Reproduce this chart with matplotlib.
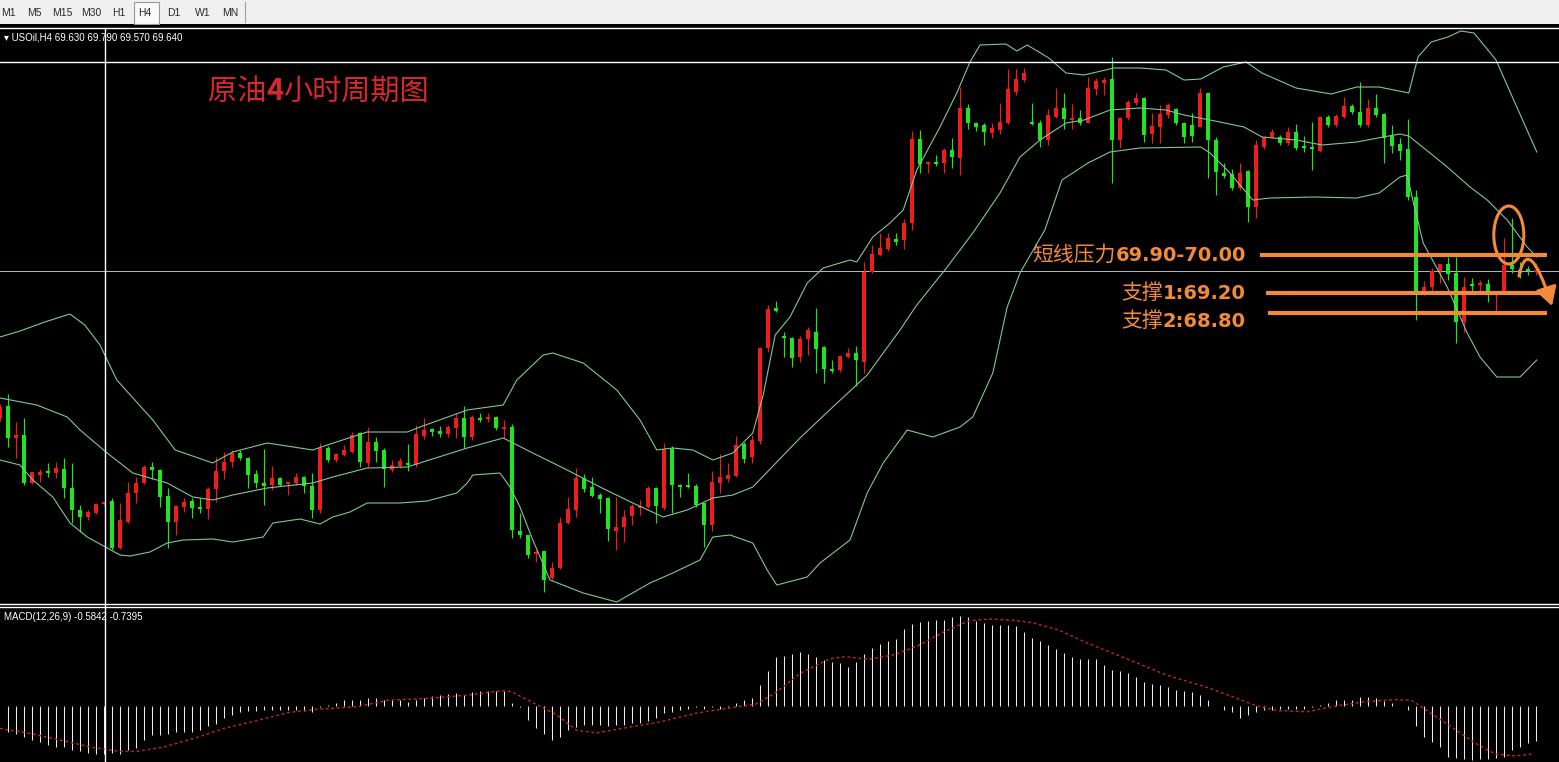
import numpy as np
import matplotlib
matplotlib.use("Agg")
import matplotlib.pyplot as plt
from matplotlib.patches import Ellipse, FancyArrowPatch, Rectangle
from matplotlib.path import Path
from matplotlib.lines import Line2D

# ---------------------------------------------------------------- data
open_ = np.array([
    66.70, 66.94, 66.30, 66.36, 65.40, 65.56, 65.64, 65.60, 65.68, 65.30,
    64.86, 64.72, 64.80, 64.98, 65.04, 64.10, 64.62, 65.20, 65.40, 65.72,
    65.66, 65.14, 64.62, 64.92, 65.04, 64.92, 64.88, 65.28, 65.64, 65.82,
    66.00, 65.90, 65.58, 65.40, 65.36, 65.50, 65.38, 65.40, 65.52, 65.34,
    64.86, 66.10, 65.86, 65.96, 66.02, 66.40, 65.80, 66.22, 66.06, 65.66,
    65.74, 65.80, 65.76, 66.34, 66.48, 66.44, 66.38, 66.50, 66.70, 66.32,
    66.70, 66.68, 66.72, 66.48, 66.52, 64.44, 64.36, 63.98, 64.04, 63.50,
    63.70, 64.60, 64.86, 65.50, 65.32, 65.16, 65.10, 64.44, 64.52, 64.74,
    64.90, 64.92, 65.30, 64.90, 66.08, 65.34, 65.34, 65.34, 65.00, 64.56,
    65.40, 65.48, 65.54, 66.18, 65.92, 66.24, 68.10, 68.90, 68.34, 68.30,
    67.92, 68.28, 68.42, 68.12, 67.68, 67.66, 67.92, 68.00, 67.82, 69.62,
    69.96, 70.08, 70.28, 70.26, 70.60, 72.28, 71.78, 71.80, 71.80, 72.06,
    71.90, 72.90, 72.60, 72.56, 72.40, 72.46, 72.60, 73.22, 73.46, 72.60,
    72.60, 72.26, 72.72, 72.90, 72.66, 72.70, 72.60, 73.28, 73.40, 73.48,
    72.26, 72.70, 73.00, 73.10, 72.38, 72.52, 72.76, 72.88, 72.60, 72.56,
    72.52, 73.20, 72.26, 71.60, 71.58, 71.30, 71.64, 70.92, 72.12, 72.32,
    72.32, 72.20, 72.42, 72.12, 72.10, 72.04, 72.72, 72.56, 72.72, 72.94,
    72.82, 72.56, 72.90, 72.78, 72.34, 72.18, 72.08, 71.12, 69.16, 69.32,
    69.64, 69.78, 69.60, 68.62, 69.38, 69.36, 69.38, 69.18, 69.20, 69.76,
    69.66, 69.66, 69.63])
high_ = np.array([
    66.98, 67.18, 66.62, 66.70, 65.62, 65.68, 65.80, 65.82, 65.90, 65.80,
    64.96, 64.86, 65.00, 65.02, 65.10, 65.00, 65.42, 65.52, 65.76, 65.82,
    65.68, 65.30, 64.96, 65.10, 65.10, 65.10, 65.32, 65.92, 66.02, 66.06,
    66.06, 65.92, 65.66, 66.08, 65.74, 65.52, 65.42, 65.60, 65.54, 65.60,
    66.20, 66.14, 66.00, 66.16, 66.42, 66.42, 66.52, 66.32, 66.10, 65.86,
    65.90, 66.18, 66.56, 66.70, 66.50, 66.54, 66.56, 66.80, 66.94, 66.76,
    66.80, 66.80, 66.74, 66.66, 66.58, 64.80, 64.36, 64.06, 64.04, 63.82,
    64.72, 65.12, 65.70, 65.58, 65.52, 65.20, 65.12, 65.12, 64.86, 64.98,
    65.06, 65.34, 65.32, 66.20, 66.14, 65.38, 65.60, 65.38, 65.00, 65.64,
    65.98, 65.80, 66.34, 66.22, 66.36, 68.12, 68.96, 69.04, 68.42, 68.32,
    68.34, 68.52, 68.90, 68.14, 67.86, 67.96, 68.10, 68.14, 69.82, 70.16,
    70.40, 70.40, 70.40, 70.68, 72.44, 72.46, 71.84, 71.96, 72.10, 72.30,
    73.32, 72.98, 72.62, 72.60, 72.60, 73.00, 73.68, 73.68, 73.70, 73.00,
    72.66, 72.88, 73.30, 73.20, 72.98, 72.86, 73.52, 73.50, 73.52, 73.92,
    72.72, 73.06, 73.20, 73.12, 72.80, 72.96, 73.00, 72.90, 72.62, 72.80,
    73.30, 73.20, 72.32, 71.80, 71.68, 71.80, 71.66, 72.26, 72.34, 72.48,
    72.36, 72.52, 72.58, 72.34, 72.62, 72.72, 72.76, 72.78, 73.12, 72.98,
    73.42, 73.08, 73.18, 72.80, 72.56, 72.30, 72.68, 71.26, 69.44, 69.70,
    69.78, 69.92, 69.92, 69.52, 69.50, 69.46, 69.48, 69.22, 70.30, 70.70,
    69.82, 69.74, 69.79])
low_ = np.array([
    66.64, 66.12, 65.90, 65.36, 65.38, 65.42, 65.52, 65.50, 65.10, 64.60,
    64.42, 64.66, 64.78, 64.96, 64.06, 64.08, 64.60, 65.00, 65.38, 65.48,
    64.92, 64.10, 64.36, 64.82, 64.70, 64.80, 64.68, 65.02, 65.48, 65.72,
    65.86, 65.30, 65.30, 64.96, 65.26, 65.34, 65.16, 65.36, 65.20, 64.70,
    64.80, 65.82, 65.82, 65.94, 66.00, 65.72, 65.72, 65.82, 65.32, 65.62,
    65.70, 65.64, 65.72, 66.28, 66.34, 66.32, 66.32, 66.30, 66.10, 66.26,
    66.62, 66.62, 66.46, 66.30, 64.30, 64.30, 63.90, 63.82, 63.22, 63.46,
    63.68, 64.58, 64.72, 65.22, 65.12, 64.80, 64.24, 64.06, 64.22, 64.56,
    64.76, 64.90, 64.60, 64.86, 64.80, 65.12, 65.30, 64.92, 64.12, 64.44,
    65.20, 65.42, 65.52, 65.80, 65.80, 66.18, 68.02, 68.82, 67.92, 67.72,
    67.82, 67.96, 67.60, 67.40, 67.60, 67.62, 67.90, 67.34, 67.60, 69.60,
    69.94, 70.04, 70.16, 70.08, 70.46, 71.60, 71.60, 71.74, 71.60, 71.70,
    71.56, 72.48, 72.44, 72.16, 72.30, 72.38, 72.58, 73.16, 73.42, 72.56,
    72.12, 72.16, 72.70, 72.48, 72.48, 72.56, 72.60, 73.16, 73.16, 71.40,
    72.10, 72.66, 72.96, 72.22, 72.20, 72.20, 72.70, 72.56, 72.20, 72.22,
    72.52, 71.50, 71.16, 71.50, 71.26, 71.26, 70.62, 70.70, 72.08, 72.30,
    72.16, 72.16, 72.06, 72.02, 71.66, 72.02, 72.52, 72.52, 72.70, 72.78,
    72.52, 72.52, 72.72, 71.80, 72.00, 71.86, 71.06, 68.66, 69.16, 69.20,
    69.40, 69.46, 68.20, 68.42, 69.20, 69.20, 69.02, 68.82, 69.20, 69.60,
    69.50, 69.56, 69.57])
close_ = np.array([
    66.92, 66.30, 66.36, 65.40, 65.62, 65.62, 65.60, 65.70, 65.30, 64.86,
    64.72, 64.82, 64.98, 65.00, 64.10, 64.66, 65.20, 65.40, 65.72, 65.66,
    65.12, 64.62, 64.94, 65.02, 64.90, 64.88, 65.28, 65.64, 65.82, 66.00,
    65.90, 65.56, 65.40, 65.34, 65.50, 65.36, 65.40, 65.52, 65.34, 64.86,
    66.10, 65.86, 65.98, 66.06, 66.36, 65.82, 66.22, 66.04, 65.68, 65.76,
    65.84, 65.76, 66.38, 66.46, 66.42, 66.38, 66.52, 66.70, 66.32, 66.72,
    66.66, 66.72, 66.50, 66.52, 64.46, 64.36, 63.96, 64.02, 63.46, 63.70,
    64.60, 64.88, 65.50, 65.28, 65.14, 65.08, 64.48, 64.52, 64.72, 64.94,
    64.94, 65.30, 64.94, 66.08, 65.36, 65.32, 65.32, 64.96, 64.56, 65.42,
    65.52, 65.56, 66.16, 65.88, 66.26, 68.10, 68.88, 68.84, 68.30, 67.90,
    68.28, 68.46, 68.08, 67.68, 67.64, 67.94, 68.00, 67.86, 69.62, 69.98,
    70.10, 70.30, 70.22, 70.60, 72.28, 71.78, 71.80, 71.78, 72.06, 71.92,
    72.90, 72.60, 72.52, 72.42, 72.50, 72.62, 73.28, 73.48, 73.60, 72.58,
    72.26, 72.76, 72.90, 72.68, 72.70, 72.60, 73.30, 73.44, 73.46, 72.26,
    72.70, 73.02, 73.10, 72.36, 72.54, 72.78, 72.96, 72.60, 72.32, 72.34,
    73.20, 72.26, 71.62, 71.54, 71.30, 71.60, 70.92, 72.16, 72.32, 72.42,
    72.20, 72.42, 72.10, 72.10, 72.08, 72.72, 72.56, 72.74, 72.94, 72.82,
    72.56, 72.90, 72.76, 72.30, 72.14, 72.04, 71.12, 69.16, 69.32, 69.64,
    69.78, 69.58, 68.62, 69.32, 69.34, 69.40, 69.18, 69.22, 69.76, 69.68,
    69.60, 69.64, 69.64])

# Bollinger bands (20,2): bar position -> price
bb_upper_x = [0, 2.5, 5.6, 8.75, 10.6, 12.5, 14.6, 19.1, 21.9, 26.6,
              29.1, 33.4, 39.1, 40.9, 45.9, 50.9, 52.5, 58.4, 62.9, 64.6,
              67.9, 69.1, 72.9, 77.1, 80.0, 82.1, 84.1, 86.6, 89.1, 91.6,
              94.1, 95.4, 96.9, 98.75, 100.9, 102.9, 106.25, 107.1, 109.1, 111.25,
              112.9, 114.6, 117.5, 119.6, 121.25, 122.5, 125.75, 127.1, 128.4, 131.1,
              133.25, 135.5, 139.25, 142.5, 145.75, 148, 150.1, 152.9, 155.75, 157.75,
              162, 166.4, 169.6, 172.4, 176.1, 177.25, 178.9, 181, 182.6, 184.25,
              187, 189.6, 192.1]
bb_upper = [68.32, 68.44, 68.62, 68.78, 68.56, 68.16, 67.46, 66.66, 66.06, 65.80,
            66.02, 66.20, 66.06, 66.16, 66.42, 66.42, 66.52, 66.86, 66.96, 67.46,
            67.96, 68.00, 67.80, 67.26, 66.66, 66.06, 66.10, 66.06, 65.86, 66.00,
            66.40, 67.16, 68.36, 68.72, 69.40, 69.70, 69.86, 69.82, 70.32, 70.60,
            70.86, 71.66, 72.52, 73.20, 73.82, 74.16, 74.18, 74.04, 74.16, 73.90,
            73.60, 73.56, 73.70, 73.70, 73.66, 73.46, 73.48, 73.72, 73.82, 73.60,
            73.30, 73.18, 73.32, 73.32, 73.20, 73.92, 74.22, 74.32, 74.44, 74.40,
            73.86, 72.92, 72.02]
bb_mid_x = [0, 4.6, 8.4, 10, 13.4, 16.6, 20.9, 24.1, 26.6, 29.1,
            33.4, 39.1, 41.6, 45.9, 50.9, 58.4, 62.9, 66.6, 70.9, 75,
            79.1, 82.9, 85.9, 89.1, 91.6, 94.1, 100, 104.1, 108.4, 112.5,
            114.6, 117.1, 118.4, 121.6, 125, 127.5, 130, 133.25, 135.5, 138.75,
            142.5, 145.75, 148, 151.25, 155.5, 157.75, 162, 165.25, 169.6, 172.9,
            175, 176.1, 178.75, 180.9, 183.75, 185.9, 188.4, 190.9, 192.1]
bb_mid = [67.10, 66.96, 66.72, 66.46, 66.00, 65.60, 65.40, 65.12, 65.06, 65.16,
          65.30, 65.40, 65.52, 65.70, 65.72, 66.10, 66.30, 66.00, 65.66, 65.32,
          65.00, 64.72, 64.86, 65.10, 65.16, 65.32, 66.30, 66.92, 67.56, 68.46,
          68.96, 69.46, 69.72, 70.40, 71.20, 71.92, 72.26, 72.60, 72.66, 72.86,
          72.90, 72.86, 72.76, 72.66, 72.52, 72.32, 72.26, 72.16, 72.22, 72.32,
          72.38, 72.34, 72.00, 71.72, 71.32, 71.06, 70.66, 70.12, 69.92]
bb_lower_x = [0, 2.5, 4.1, 6.6, 8.75, 10.9, 13.4, 15, 16.25, 18.75,
              20.9, 22.9, 26.6, 29.1, 32.9, 34.1, 37.5, 40, 41.6, 43.75,
              45.9, 50, 53.4, 57.1, 58.4, 59.1, 62.5, 63.75, 65, 66.6,
              68.75, 72.9, 77.1, 81.25, 84.1, 87.5, 89.1, 91.25, 94.1, 95.9,
              97.1, 100.9, 102.5, 106.25, 108.4, 110.4, 113.4, 116.6, 120, 121.6,
              124.1, 125.9, 127.5, 130.6, 132.75, 136, 138.75, 142.5, 150.1, 151.25,
              153.4, 156.6, 158.75, 164.25, 169.6, 172.4, 175, 175.9, 176.6, 177.9,
              180.9, 183.4, 185, 187.1, 190, 192.1]
bb_lower = [65.86, 65.76, 65.46, 65.12, 64.60, 64.32, 64.10, 63.96, 63.94, 64.02,
            64.20, 64.26, 64.28, 64.22, 64.32, 64.60, 64.68, 64.58, 64.72, 64.82,
            65.00, 65.00, 65.04, 65.20, 65.40, 65.56, 65.60, 65.32, 64.92, 64.26,
            63.46, 63.20, 63.02, 63.40, 63.60, 63.86, 64.32, 64.36, 64.20, 63.66,
            63.36, 63.52, 63.80, 64.26, 65.20, 65.80, 66.46, 66.32, 66.52, 66.72,
            67.60, 68.92, 69.60, 70.46, 71.46, 71.80, 72.02, 72.10, 72.12, 72.00,
            71.66, 71.06, 71.10, 71.12, 71.10, 71.20, 71.52, 71.56, 71.06, 70.20,
            69.32, 68.40, 67.92, 67.52, 67.52, 67.86]

# MACD(12,26,9) histogram, bars 1..192
macd_hist = [
    -0.40, -0.43, -0.48, -0.53, -0.56, -0.61, -0.64, -0.64, -0.68, -0.71,
    -0.74, -0.75, -0.75, -0.74, -0.75, -0.69, -0.66, -0.53, -0.45, -0.45,
    -0.43, -0.40, -0.40, -0.40, -0.38, -0.32, -0.28, -0.19, -0.14, -0.09,
    -0.08, -0.08, -0.07, -0.06, -0.06, -0.07, -0.06, -0.08, -0.10, -0.01,
    0.01, 0.04, 0.10, 0.10, 0.09, 0.13, 0.12, 0.09, 0.09, 0.10,
    0.07, 0.09, 0.12, 0.15, 0.17, 0.19, 0.20, 0.17, 0.22, 0.24,
    0.24, 0.24, 0.24, 0.04, -0.01, -0.22, -0.35, -0.43, -0.53, -0.48,
    -0.38, -0.33, -0.30, -0.30, -0.30, -0.31, -0.30, -0.29, -0.27, -0.27,
    -0.23, -0.19, -0.11, -0.09, -0.06, -0.04, -0.01, -0.04, -0.02, -0.04,
    -0.01, 0.04, 0.09, 0.12, 0.33, 0.55,
    0.77, 0.78, 0.82, 0.85, 0.81, 0.76, 0.72, 0.68, 0.67, 0.61,
    0.69, 0.81, 0.90, 0.97, 1.01, 1.04, 1.20, 1.28, 1.32, 1.33,
    1.34, 1.34, 1.39, 1.40, 1.39, 1.33, 1.30, 1.27, 1.27, 1.27,
    1.25, 1.16, 1.06, 1.01, 0.95, 0.89, 0.83, 0.77, 0.74, 0.74,
    0.74, 0.64, 0.56, 0.54, 0.52, 0.45, 0.38, 0.35, 0.33, 0.30,
    0.25, 0.24, 0.22, 0.17, 0.09, 0.00, -0.06, -0.10, -0.19, -0.14,
    -0.09, -0.06, -0.06, -0.04, -0.04, -0.04, -0.04, -0.01, 0.02, 0.05,
    0.09, 0.10, 0.10, 0.14, 0.14, 0.12, 0.08, 0.04, 0.00, -0.06,
    -0.31, -0.48, -0.57, -0.64, -0.79, -0.82, -0.83, -0.84, -0.83, -0.83,
    -0.82, -0.79, -0.69, -0.64, -0.58, -0.55]
macd_signal_x = [0, 3.75, 7.5, 11.25, 15, 17.1, 20.5, 24.9, 28, 32.4,
                 36.1, 39.75, 44.75, 48.5, 53.5, 58.5, 62.75, 64, 67.1, 69.6,
                 72.1, 74.6, 77.75, 82.1, 87.1, 90.75, 94.5, 97, 100, 103.75,
                 105.6, 108.6, 111.75, 114.9, 118, 121.1, 123.6, 126.6, 129.1, 132.25,
                 136, 141, 145.9, 150.9, 154.6, 157.1, 159.6, 163.4, 167, 170.75,
                 174.5, 176.4, 178.25, 180.75, 184.4, 186.9, 189.4, 191.6]
macd_signal = [-0.35, -0.43, -0.53, -0.64, -0.71, -0.71, -0.64, -0.48, -0.35, -0.22,
               -0.10, -0.05, -0.01, 0.09, 0.12, 0.17, 0.24, 0.22, 0.02, -0.14,
               -0.38, -0.42, -0.35, -0.26, -0.11, -0.04, 0.03, 0.21, 0.51, 0.74,
               0.77, 0.73, 0.80, 0.95, 1.16, 1.33, 1.36, 1.34, 1.30, 1.19,
               0.98, 0.73, 0.48, 0.29, 0.12, 0.00, -0.07, -0.09, 0.00, 0.07,
               0.10, 0.09, -0.06, -0.27, -0.58, -0.75, -0.78, -0.75]

timeframes = ["M1", "M5", "M15", "M30", "H1", "H4", "D1", "W1", "MN"]
active_tf = "H4"
symbol = "USOil,H4"
macd_label = "MACD(12,26,9) -0.5842 -0.7395"
title_parts = ["原油", "4", "小时周期图"]
resist_lo, resist_hi = 69.90, 70.00
support1, support2 = 69.20, 68.80
drawn_level = 73.82
cursor_bar = 13.125

# ---------------------------------------------------------------- style
W, H, DPI = 1559, 762, 100
RED, GREEN = "#EE1C1C", "#1FE51F"
BAND = "#7DC79B"
ORANGE = "#F28A3A"
TITLE_RED = "#D8282E"
CJK = ["Noto Sans CJK SC", "DejaVu Sans"]
UI = ["Liberation Sans", "DejaVu Sans"]

fig = plt.figure(figsize=(W / DPI, H / DPI), dpi=DPI, facecolor="black")
renderer = fig.canvas.get_renderer()

ax = fig.add_axes([0, 1 - 604 / H, 1, (604 - 28) / H])
ax2 = fig.add_axes([0, 0, 1, (H - 607) / H])
n_slots = 194.875
for a in (ax, ax2):
    a.set_facecolor("black")
    a.set_xticks([]); a.set_yticks([])
    for s in a.spines.values():
        s.set_visible(False)
    a.set_xlim(0, n_slots)
ax.set_ylim(62.98, 74.50)
ax2.set_ylim(-0.875, 1.547)

# ---------------------------------------------------------------- candles
idx = np.arange(len(close_))
col = np.where(close_ >= open_, RED, GREEN)
ax.vlines(idx, low_, high_, colors=col, lw=0.85, zorder=2)
body_bot = np.minimum(open_, close_)
body_h = np.maximum(np.abs(close_ - open_), 0.035)
ax.bar(idx, body_h, bottom=body_bot, width=0.62, color=col, linewidth=0, zorder=2)

# bands
for bx, by in ((bb_upper_x, bb_upper), (bb_mid_x, bb_mid), (bb_lower_x, bb_lower)):
    ax.plot(bx, by, color=BAND, lw=0.8, zorder=3)

# horizontal lines
ax.axhline(drawn_level, color="white", lw=1.0, zorder=4)
ax.axhline(close_[-1], color="#AEBDBD", lw=0.7, zorder=1)

# ---------------------------------------------------------------- MACD
hist_idx = np.arange(1, len(macd_hist) + 1)
ax2.vlines(hist_idx, 0, macd_hist, colors="#ECECEC", lw=0.75)
ax2.plot(macd_signal_x, macd_signal, color="#C9242C", lw=1.0, ls=(0, (2, 2)))

# ---------------------------------------------------------------- frame lines
def hline_px(y, color="white", lw=1.0):
    fig.add_artist(Line2D([0, 1], [1 - y / H] * 2, transform=fig.transFigure,
                          color=color, lw=lw))
hline_px(28)
hline_px(604)
hline_px(607)
cx = ax.transData.transform((cursor_bar, 0))[0] / W
fig.add_artist(Line2D([cx, cx], [0, 1 - 28 / H], transform=fig.transFigure,
                      color="white", lw=1.0))

# toolbar
fig.add_artist(Rectangle((0, 1 - 24 / H), 1, 24 / H, transform=fig.transFigure,
                         facecolor="#F0F0F0", edgecolor="none"))
tf_centers = [8, 34, 62, 91, 119, 145, 174, 203, 230]
for lab, xc in zip(timeframes, tf_centers):
    if lab == active_tf:
        fig.add_artist(Rectangle(((xc - 11) / W, 1 - 24 / H), 25 / W, 22 / H,
                                 transform=fig.transFigure, facecolor="#FAFAFA",
                                 edgecolor="#9A9A9A", lw=0.8))
    fig.text(xc / W, 1 - 13 / H, lab, ha="center", va="center", fontsize=7.5,
             color="#2A2A2A", family=UI)
fig.add_artist(Line2D([245 / W] * 2, [1 - 22 / H, 1 - 2 / H],
                      transform=fig.transFigure, color="#A0A0A0", lw=0.8))

# header texts
fig.text(4 / W, 1 - 37 / H,
         "\u25be " + f"{symbol} {open_[-1]:.3f} {high_[-1]:.3f} {low_[-1]:.3f} {close_[-1]:.3f}",
         color="white", fontsize=7, family=UI, ha="left", va="center")
fig.text(4 / W, 1 - 617 / H, macd_label, color="white", fontsize=7,
         family=UI, ha="left", va="center")

# title
x = 208
for part in title_parts:
    bold = part.isdigit()
    t = fig.text(x / W, 1 - 100 / H, part, color=TITLE_RED, fontsize=21,
                 fontweight="bold" if bold else "normal", family=CJK,
                 ha="left", va="baseline")
    x = t.get_window_extent(renderer).x1

# ---------------------------------------------------------------- annotations
resist_mid = (resist_lo + resist_hi) / 2
ax.hlines(resist_mid, 157.5, 193.4, color=ORANGE, lw=3.0, zorder=6)
ax.hlines(support1, 158.25, 193.1, color=ORANGE, lw=3.0, zorder=6)
ax.hlines(support2, 158.5, 193.4, color=ORANGE, lw=3.0, zorder=6)

labels = [(resist_mid, "短线压力", f"{resist_lo:.2f}-{resist_hi:.2f}", 5.5),
          (support1, "支撑", f"1:{support1:.2f}", 6.0),
          (support2, "支撑", f"2:{support2:.2f}", 14.0)]
label_right = 155.75
for lvl, cn, num, dy in labels:
    xr, yb = ax.transData.transform((label_right, lvl))
    yb -= dy
    t = fig.text(xr / W, yb / H, num, color=ORANGE, fontsize=14, fontweight="bold",
                 family="DejaVu Sans", ha="right", va="baseline")
    x0 = t.get_window_extent(renderer).x0
    fig.text(x0 / W, yb / H, cn, color=ORANGE, fontsize=15, family=CJK,
             ha="right", va="baseline")

ax.add_patch(Ellipse((188.6, 70.36), width=3.75, height=1.16, fill=False,
                     edgecolor=ORANGE, lw=2.2, zorder=7))
arc = Path([(189.875, 69.54), (191.0, 70.42), (194.0, 68.94)],
           [Path.MOVETO, Path.CURVE3, Path.CURVE3])
ax.add_patch(FancyArrowPatch(path=arc, arrowstyle="-|>,head_length=0.7,head_width=0.4",
                             mutation_scale=16, color=ORANGE, lw=2.2, zorder=7))

fig.savefig("out.png", dpi=DPI, facecolor="black")
